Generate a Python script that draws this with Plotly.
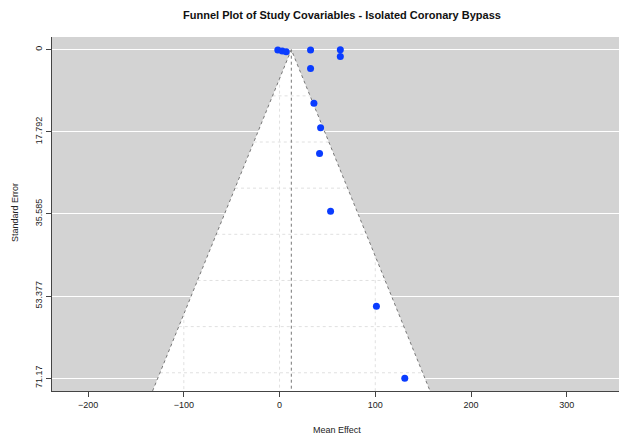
import plotly.graph_objects as go

# Data
effect = [-1.8, 2.8, 7.0, 32.4, 63.5, 63.5, 32.4, 35.9, 42.9, 41.8, 53.3, 101.2, 130.8]
std_err = [0.06, 0.28, 0.43, 0.06, 0.0, 1.45, 4.1, 11.6, 16.9, 22.5, 35.0, 55.6, 71.17]
center = 12.3
y_ticks = [0, 17.792, 35.585, 53.377, 71.17]
y_tick_labels = ["0", "17.792", "35.585", "53.377", "71.17"]
x_ticks = [-200, -100, 0, 100, 200, 300]
grid_se = [0, 10, 20, 30, 40, 50, 60, 70]

X_RANGE = [-237.7, 354.6]
Y_RANGE = [73.95, -2.75]
ymax = Y_RANGE[0]
z = 1.96

W, H = 619, 438
ML, MR, MT, MB = 52, 0, 37, 47

fig = go.Figure()

# funnel region (white)
fig.add_trace(go.Scatter(
    x=[center, center - z * ymax, center + z * ymax, center],
    y=[0, ymax, ymax, 0],
    fill="toself", fillcolor="white", mode="lines",
    line=dict(width=0), hoverinfo="skip", showlegend=False))

# dotted grid inside funnel
gx, gy = [], []
for s in grid_se:
    gx += [center - z * s, center + z * s, None]
    gy += [s, s, None]
for xv in x_ticks:
    s0 = abs(xv - center) / z
    if s0 < ymax:
        gx += [xv, xv, None]
        gy += [s0, ymax, None]
fig.add_trace(go.Scatter(x=gx, y=gy, mode="lines",
                         line=dict(color="#e0e0e0", width=1, dash="dot"),
                         hoverinfo="skip", showlegend=False))

# funnel edges
fig.add_trace(go.Scatter(
    x=[center - z * ymax, center, center + z * ymax],
    y=[ymax, 0, ymax], mode="lines",
    line=dict(color="#777777", width=1, dash="dot"),
    hoverinfo="skip", showlegend=False))
# center line
fig.add_trace(go.Scatter(
    x=[center, center], y=[0, ymax], mode="lines",
    line=dict(color="#777777", width=1, dash="dot"),
    hoverinfo="skip", showlegend=False))

# studies
fig.add_trace(go.Scatter(
    x=effect, y=std_err, mode="markers",
    marker=dict(color="#0a3cff", size=7),
    showlegend=False))

fig.update_layout(
    width=W, height=H,
    margin=dict(l=ML, r=MR, t=MT, b=MB, autoexpand=False),
    paper_bgcolor="white", plot_bgcolor="#d3d3d3",
    font=dict(family="Liberation Sans, Arial, sans-serif", size=9, color="#222"),
    title=dict(text="<b>Funnel Plot of Study Covariables - Isolated Coronary Bypass</b>",
               x=342 / W, xanchor="center", y=1 - 15 / H, yanchor="middle",
               font=dict(size=11, color="#111")),
    xaxis=dict(range=X_RANGE, tickvals=x_ticks, showgrid=False, zeroline=False,
               showline=True, linecolor="#444", linewidth=1, automargin=False,
               ticks="outside", ticklen=5, tickcolor="#444"),
    yaxis=dict(range=Y_RANGE, tickvals=y_ticks, ticktext=y_tick_labels,
               tickangle=-90, showgrid=True, gridcolor="white", gridwidth=1,
               zeroline=False, showline=True, linecolor="#444", linewidth=1,
               automargin=False, ticks="outside", ticklen=5, tickcolor="#444"),
    annotations=[
        dict(text="Mean Effect", xref="paper", yref="paper",
             x=(337 - ML) / (W - ML - MR), y=-(430 - (H - MB)) / (H - MT - MB),
             xanchor="center", yanchor="middle", showarrow=False,
             font=dict(size=9, color="#222")),
        dict(text="Standard Error", xref="paper", yref="paper",
             x=-(ML - 15) / (W - ML - MR), y=1 - (213 - MT) / (H - MT - MB),
             xanchor="center", yanchor="middle", textangle=-90, showarrow=False,
             font=dict(size=9, color="#222")),
    ],
)

fig.write_html("out.html", config={"displayModeBar": False},
               post_script="document.body.style.margin='0';document.body.style.overflow='hidden';")
